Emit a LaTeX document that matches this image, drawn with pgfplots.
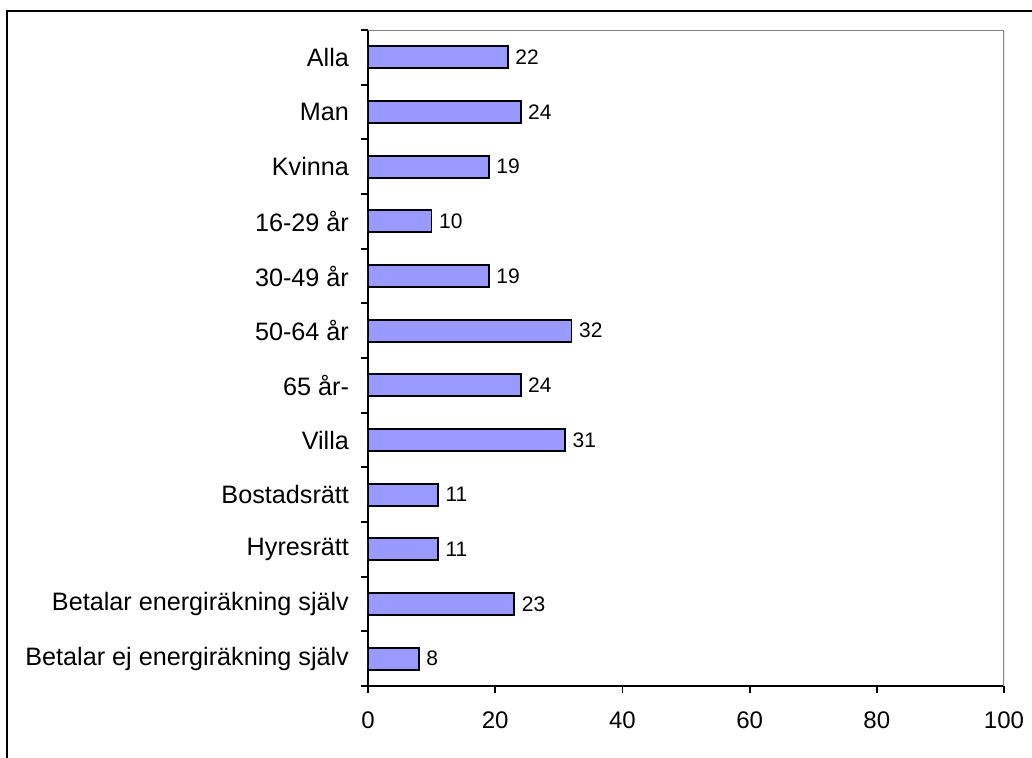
\documentclass[border=0pt]{standalone}
\usepackage{pgfplots}
\pgfplotsset{compat=1.18}
\usepackage{fontspec}
\setmainfont{Liberation Sans}
\definecolor{barfill}{HTML}{9999FF}
\begin{document}
\begin{tikzpicture}
\useasboundingbox (-184pt,-35.5pt) rectangle (332pt,343pt);
% chart area frame
\draw[line width=1pt] (-180.5pt,-60pt) -- (-180.5pt,337.5pt) -- (360pt,337.5pt);
\begin{axis}[
  at={(0,0)}, anchor=south west,
  scale only axis, width=318pt, height=328pt,
  xbar, bar width=11pt,
  xmin=0, xmax=100, xtick={0,20,...,100},
  ymin=-0.5, ymax=11.5,
  ytick={-0.5,0.5,...,11.5}, yticklabels={},
  extra y ticks={0,...,11},
  extra y tick labels={Betalar ej energiräkning själv, Betalar energiräkning själv, Hyresrätt, Bostadsrätt, Villa, 65 år-, 50-64 år, 30-49 år, 16-29 år, Kvinna, Man, Alla},
  extra y tick style={major tick length=0pt},
  axis x line*=bottom, axis y line*=left,
  axis line style={black, line width=0.9pt},
  tick align=outside, major tick length=3.5pt,
  tick style={black, line width=0.9pt},
  /pgf/number format/assume math mode=true,
  xticklabel style={font=\fontsize{12}{14}\selectfont, yshift=-6pt},
  yticklabel style={font=\fontsize{12.6}{15}\selectfont, xshift=-6pt},
  nodes near coords,
  nodes near coords style={font=\fontsize{10.5}{12}\selectfont, black},
  every node near coord/.append style={anchor=west},
]
\addplot[fill=barfill, draw=black, line width=0.9pt] coordinates {
  (8,0) (23,1) (11,2) (11,3) (31,4) (24,5) (32,6) (19,7) (10,8) (19,9) (24,10) (22,11)
};
\draw[gray, line width=1pt] (axis cs:0,11.5) -- (axis cs:100,11.5) -- (axis cs:100,-0.5);
\end{axis}
\end{tikzpicture}
\end{document}
